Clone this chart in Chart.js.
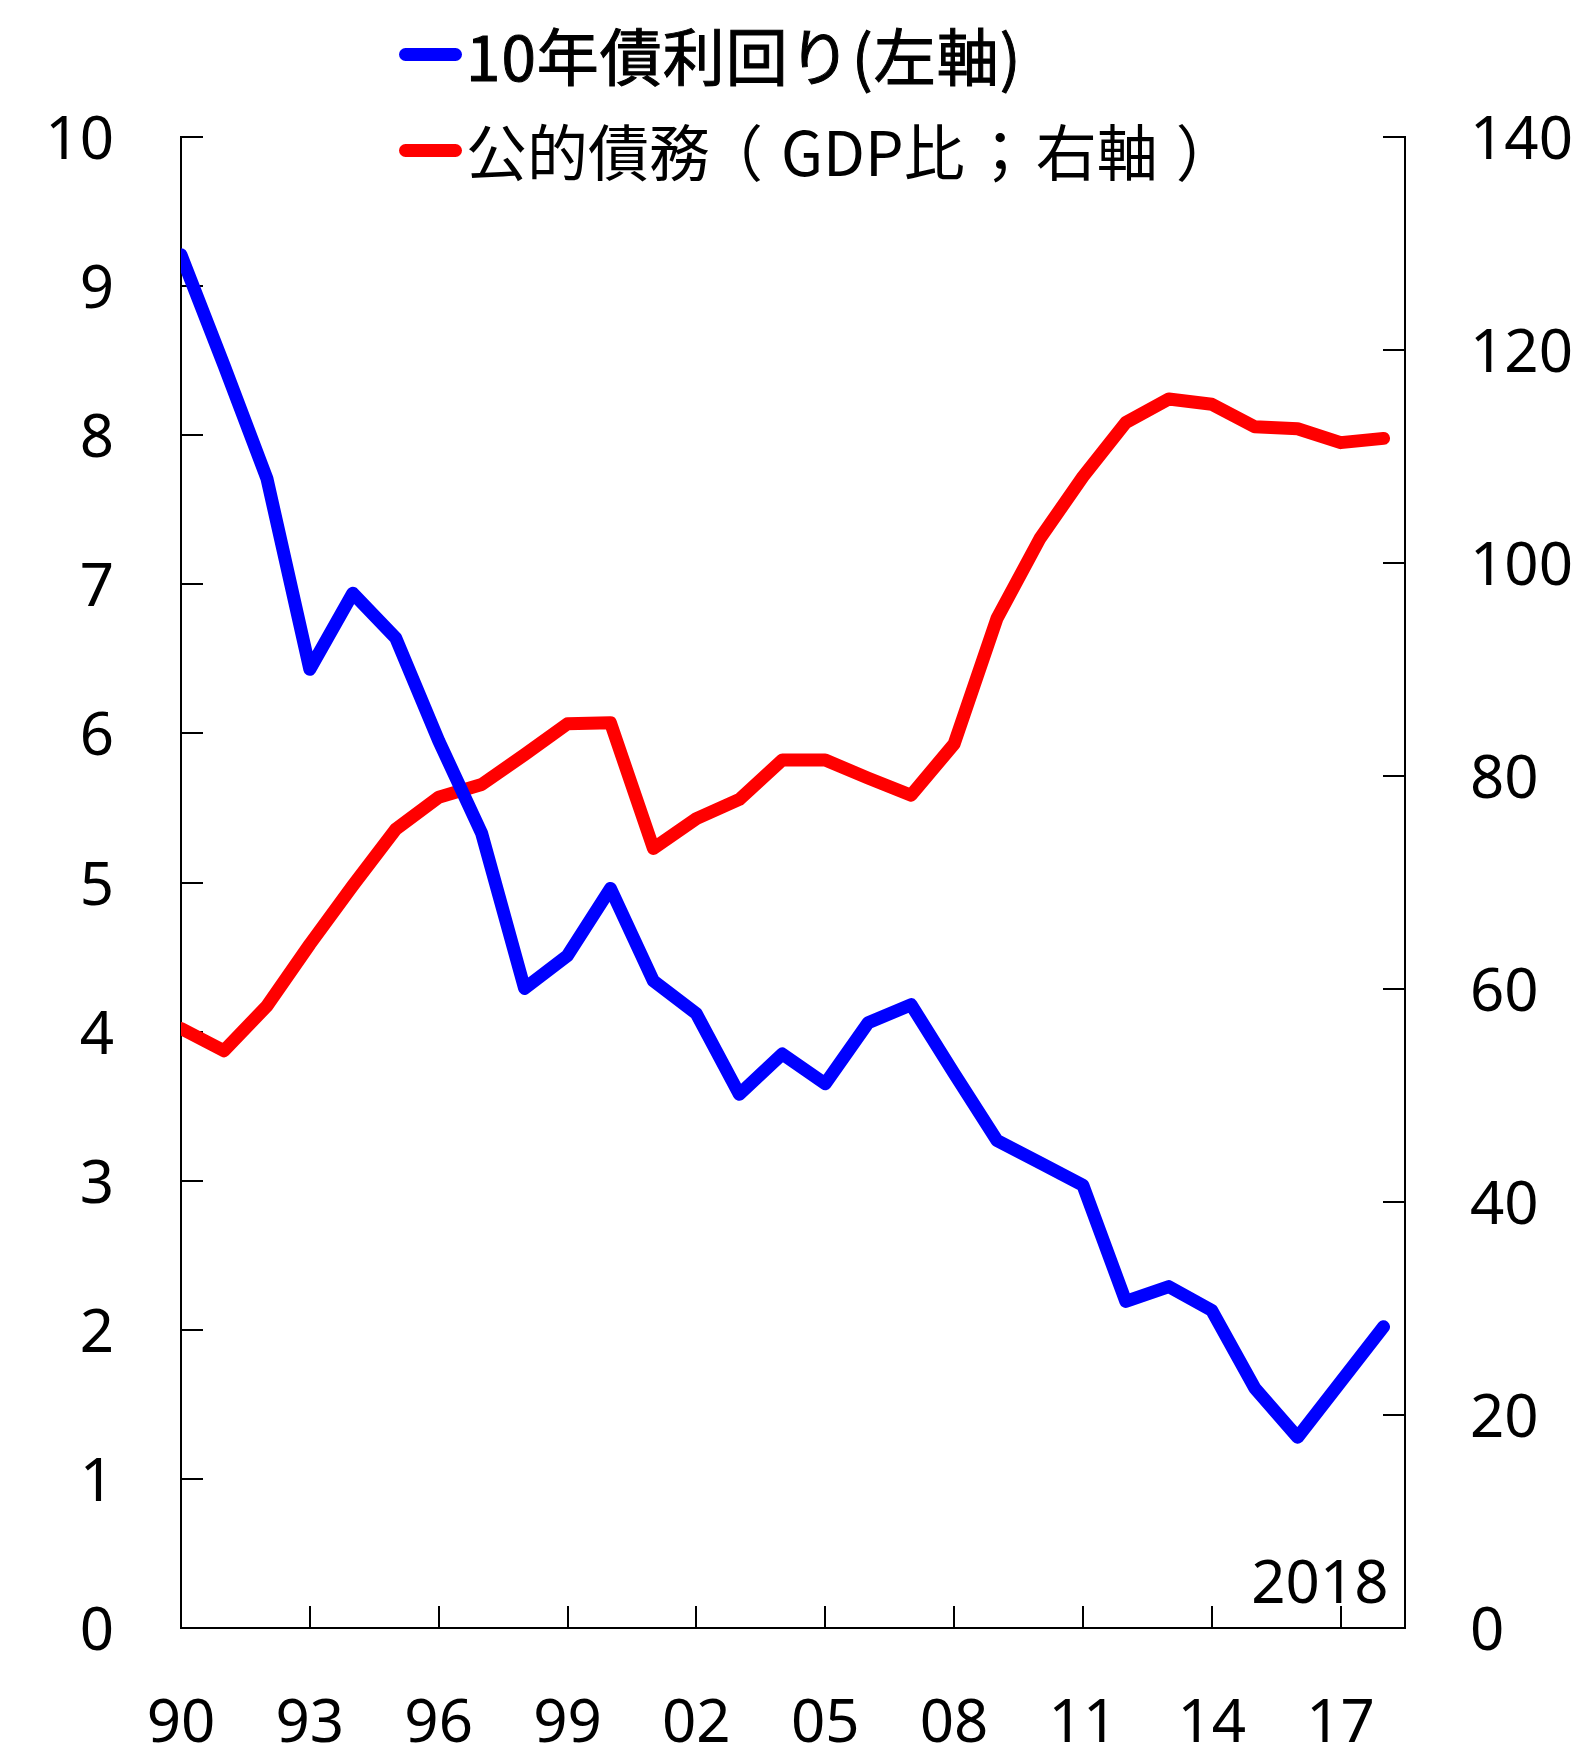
<!DOCTYPE html>
<html lang="ja">
<head>
<meta charset="utf-8">
<title>10年債利回りと公的債務</title>
<script src="https://cdn.jsdelivr.net/npm/chart.js@4.4.1/dist/chart.umd.min.js"></script>
<style>
  html, body { margin: 0; padding: 0; background: #fff; }
  #wrap { position: relative; width: 1582px; height: 1747px; }
  #legend { position: absolute; left: 399px; top: 0; font-family: "Noto Sans CJK JP", sans-serif; font-size: 61px; color: #000; }
  .item { position: absolute; left: 0; white-space: nowrap; display: flex; align-items: center; height: 60px; line-height: 60px; }
  .swatch { width: 63px; height: 13px; border-radius: 7px; margin-right: 4px; }
  #lab1 { font-size: 62px; letter-spacing: 1px; -webkit-text-stroke: 1px #000; }
  .fw { display: inline-block; width: 71px; text-align: center; font-feature-settings: "palt"; }
</style>
</head>
<body>
<div id="wrap">
  <canvas id="chart" width="1582" height="1747"></canvas>
  <div id="legend">
    <div class="item" style="top:24px"><span class="swatch" style="background:#0000ff"></span><span id="lab1"></span></div>
    <div class="item" style="top:120px"><span class="swatch" style="background:#ff0000"></span><span id="lab2"></span></div>
  </div>
</div>
<script>
// years 1990..2018
const years = [1990, 1991, 1992, 1993, 1994, 1995, 1996, 1997, 1998, 1999,
               2000, 2001, 2002, 2003, 2004, 2005, 2006, 2007, 2008, 2009,
               2010, 2011, 2012, 2013, 2014, 2015, 2016, 2017, 2018];

// 10-year bond yield (%), left axis
const bondYield = [9.21, 8.47, 7.71, 6.43, 6.94, 6.64, 5.95, 5.33, 4.29, 4.51,
                   4.96, 4.34, 4.12, 3.58, 3.85, 3.65, 4.06, 4.18, 3.72, 3.27,
                   3.12, 2.97, 2.19, 2.29, 2.13, 1.61, 1.28, 1.65, 2.02];

// public debt (% of GDP), right axis
const publicDebt = [56.3, 54.2, 58.4, 64.2, 69.7, 75.0, 78.0, 79.2, 82.0, 84.9,
                    85.0, 73.2, 76.0, 77.8, 81.5, 81.5, 79.8, 78.2, 83.0, 94.8,
                    102.3, 108.1, 113.2, 115.4, 114.9, 112.8, 112.6, 111.3, 111.7];

// x tick years (every third year)
const tickYears = [1990, 1993, 1996, 1999, 2002, 2005, 2008, 2011, 2014, 2017];

const seriesNames = ['10年債利回り(左軸)', '公的債務（GDP比；右軸）'];
const cornerLabel = '2018';

document.getElementById('lab1').textContent = seriesNames[0];
// wrap full-width punctuation so it sits centred like in the original
const lab2 = document.getElementById('lab2');
for (const ch of seriesNames[1]) {
  if ('（）；'.includes(ch)) {
    const s = document.createElement('span');
    s.className = 'fw';
    s.textContent = ch;
    lab2.appendChild(s);
  } else {
    lab2.appendChild(document.createTextNode(ch));
  }
}

Chart.defaults.font.family = '"Noto Sans", sans-serif';
Chart.defaults.font.size = 60;
Chart.defaults.color = '#000';

// tick marks drawn on the inside of the axes
const innerTicks = {
  id: 'innerTicks',
  beforeDatasetsDraw(chart) {
    const {ctx, chartArea, scales} = chart;
    const len = 22;
    ctx.save();
    ctx.strokeStyle = '#000';
    ctx.lineWidth = 2;
    ctx.beginPath();
    scales.y.ticks.forEach(t => {
      const py = Math.round(scales.y.getPixelForValue(t.value));
      ctx.moveTo(chartArea.left, py);
      ctx.lineTo(chartArea.left + len, py);
    });
    scales.y2.ticks.forEach(t => {
      const py = Math.round(scales.y2.getPixelForValue(t.value));
      ctx.moveTo(chartArea.right, py);
      ctx.lineTo(chartArea.right - len, py);
    });
    scales.x.ticks.forEach(t => {
      const px = Math.round(scales.x.getPixelForValue(t.value));
      ctx.moveTo(px, chartArea.bottom);
      ctx.lineTo(px, chartArea.bottom - len);
    });
    ctx.stroke();
    ctx.restore();
  },
  afterDraw(chart) {
    const {ctx, scales} = chart;
    ctx.save();
    ctx.font = '60px "Noto Sans", sans-serif';
    ctx.fillStyle = '#000';
    ctx.textAlign = 'right';
    ctx.textBaseline = 'alphabetic';
    ctx.fillText(cornerLabel, scales.x.getPixelForValue(years[years.length - 1]) + 5, scales.y.getPixelForValue(0) - 25);
    ctx.restore();
  }
};

const ctx = document.getElementById('chart').getContext('2d');
const chart = new Chart(ctx, {
  type: 'line',
  data: {
    datasets: [{
      label: seriesNames[0],
      data: years.map((yr, i) => ({x: yr, y: bondYield[i]})),
      borderColor: '#0000ff',
      borderWidth: 13,
      borderCapStyle: 'round',
      borderJoinStyle: 'round',
      pointRadius: 0,
      tension: 0,
      yAxisID: 'y'
    }, {
      label: seriesNames[1],
      data: years.map((yr, i) => ({x: yr, y: publicDebt[i]})),
      borderColor: '#ff0000',
      borderWidth: 13,
      borderCapStyle: 'round',
      borderJoinStyle: 'round',
      pointRadius: 0,
      tension: 0,
      yAxisID: 'y2'
    }]
  },
  options: {
    responsive: false,
    animation: false,
    devicePixelRatio: 1,
    layout: { padding: { top: 137, left: 0, right: 0, bottom: 0 } },
    plugins: {
      legend: { display: false },
      tooltip: { enabled: false }
    },
    scales: {
      x: {
        type: 'linear',
        min: 1990,
        max: 2018.5,
        afterBuildTicks: axis => {
          axis.ticks = tickYears.map(v => ({value: v}));
        },
        afterFit: scale => { scale.height = 119; },
        ticks: {
          autoSkip: false,
          maxRotation: 0,
          padding: 61,
          callback: v => String(v).slice(2)
        },
        grid: { drawOnChartArea: false, drawTicks: false },
        border: { display: true, color: '#000', width: 2 }
      },
      y: {
        position: 'left',
        min: 0,
        max: 10,
        afterFit: scale => { scale.width = 181; },
        ticks: { stepSize: 1, padding: 67, labelOffset: 5 },
        grid: { drawOnChartArea: false, drawTicks: false },
        border: { display: true, color: '#000', width: 2 }
      },
      y2: {
        position: 'right',
        min: 0,
        max: 140,
        afterFit: scale => { scale.width = 177; },
        ticks: { stepSize: 20, padding: 65, labelOffset: 5 },
        grid: { drawOnChartArea: false, drawTicks: false },
        border: { display: true, color: '#000', width: 2 }
      }
    }
  },
  plugins: [innerTicks]
});
</script>
</body>
</html>
